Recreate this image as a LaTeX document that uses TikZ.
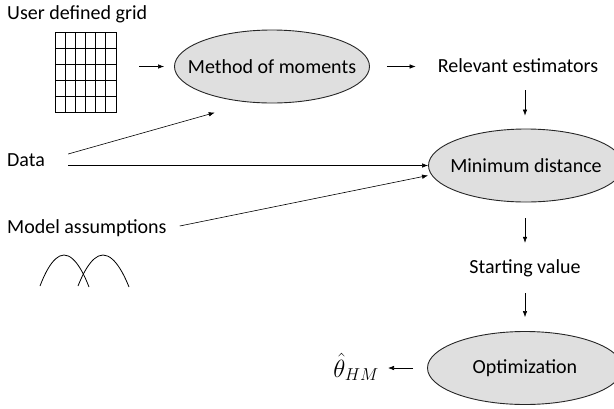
\documentclass[tikz,border=0pt]{standalone}
\usepackage{fontspec}
\setmainfont{Carlito}
\usepackage{amsmath}
\usetikzlibrary{shapes.geometric, arrows.meta}

\tikzset{
    lbl/.style = {font=\fontsize{20}{24}\selectfont, inner sep=0pt, text height=14pt, text depth=4pt},
    stage/.style = {ellipse, draw=black!85, line width=0.9pt, fill=gray!25,
        minimum width=195pt, minimum height=73pt, inner sep=0pt,
        font=\fontsize{20}{24}\selectfont},
    arr/.style = {-{Latex[length=6pt, width=4.5pt]}, line width=0.6pt},
    gridline/.style = {line width=0.8pt}
}
\newcommand{\stagetext}[1]{\makebox[0pt]{#1}}

\begin{document}
\begin{tikzpicture}[x=1pt, y=-1pt]
        \useasboundingbox (0, 0) rectangle (614, 408);
        % inputs
        \node[lbl, anchor=west] (ugrid) at (7, 14) {User defined grid};
        \node[lbl, anchor=west] (data) at (7, 161) {Data};
        \node[lbl, anchor=west] (model) at (7, 228) {Model assumptions};
        % the grid
        \node[draw, gridline, minimum width=61pt, minimum height=80pt, inner sep=0pt] (grid) at (85.5, 72) {};
        \draw[gridline] (65.2, 32) -- (65.2, 112);
        \draw[gridline] (75.3, 32) -- (75.3, 112);
        \draw[gridline] (85.5, 32) -- (85.5, 112);
        \draw[gridline] (95.7, 32) -- (95.7, 112);
        \draw[gridline] (105.8, 32) -- (105.8, 112);
        \draw[gridline] (55, 48) -- (116, 48);
        \draw[gridline] (55, 64) -- (116, 64);
        \draw[gridline] (55, 80) -- (116, 80);
        \draw[gridline] (55, 96) -- (116, 96);
        % the two bumps
        \draw[gridline] (40, 286) parabola bend (64, 255) (89, 287);
        \draw[gridline] (78, 286) parabola bend (103, 255) (129, 287);
        % stages
        \node[stage] (mom) at (272, 66.5) {\stagetext{Method of moments}};
        \node[lbl] (relest) at (518, 67) {Relevant estimators};
        \node[stage] (mindist) at (526, 165.5) {\stagetext{Minimum distance}};
        \node[lbl] (start) at (525, 268) {Starting value};
        \node[stage] (optim) at (525, 368) {\stagetext{Optimization}};
        \node[inner sep=0pt, anchor=east, font=\fontsize{26}{30}\selectfont] (theta) at (379, 367) {$\hat{\theta}_{HM}$};
        % connectors
        \draw[arr, shorten <=23pt, shorten >=10pt] (grid.east |- mom.west) -- (mom.west);
        \draw[arr, shorten <=17pt, shorten >=22pt] (mom.east) -- (relest.west |- mom.east);
        \draw[arr, shorten <=14pt, shorten >=13pt] (relest.south -| start.north) -- (start.north |- mindist.north);
        \draw[arr] ([xshift=23pt, yshift=7pt]data.east) -- ([xshift=12pt, yshift=-20pt]mom.south west);
        \draw[arr, shorten <=23pt] (data.east |- mindist.west) -- (mindist.west);
        \draw[arr] ([xshift=13pt, yshift=2pt]model.east) -- ([yshift=-10pt]mindist.west);
        \draw[arr, shorten <=16pt, shorten >=16pt] (mindist.south -| start.north) -- (start.north);
        \draw[arr, shorten <=16pt, shorten >=14pt] (start.south) -- (optim.north);
        \draw[arr, shorten <=14pt, shorten >=9pt] (optim.west) -- (theta.east |- optim.west);
\end{tikzpicture}
\end{document}
